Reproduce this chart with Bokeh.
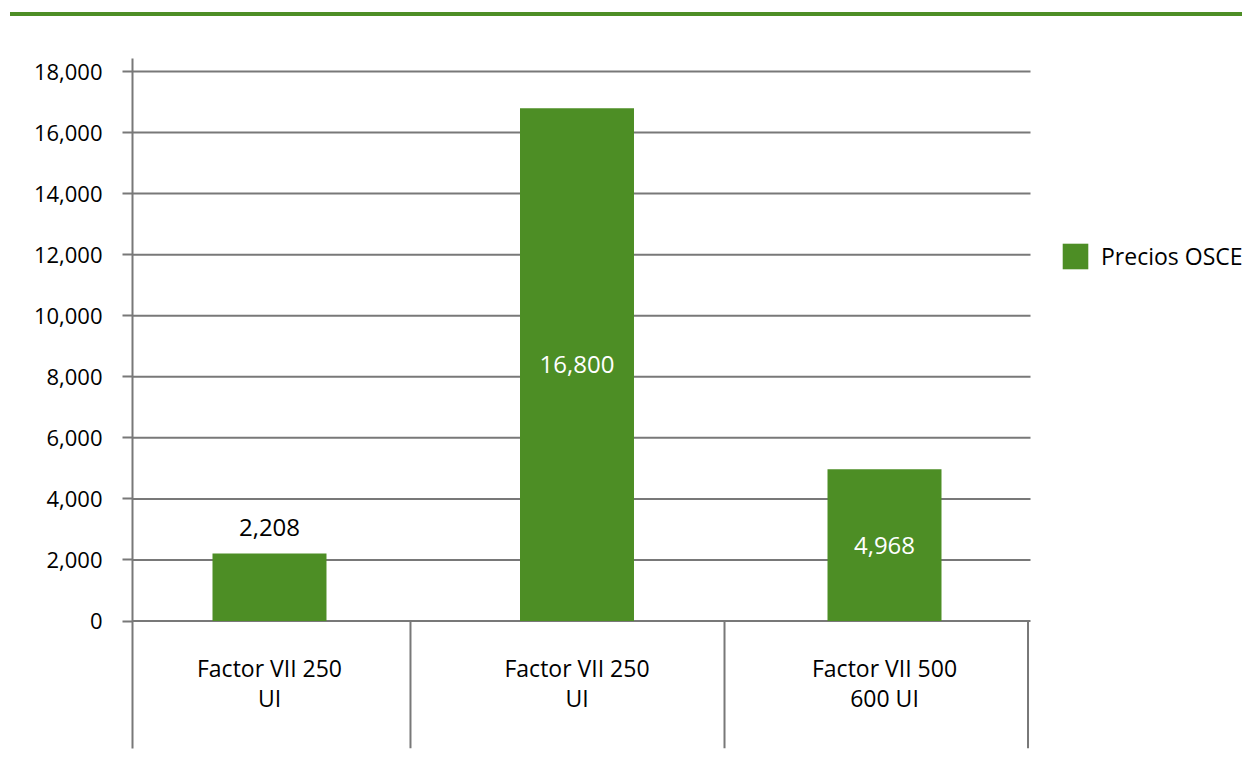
from bokeh.plotting import figure
from bokeh.layouts import column
from bokeh.models import (ColumnDataSource, FixedTicker, NumeralTickFormatter,
                          Legend, LegendItem, Range1d, Div)
from bokeh.core.properties import value
from bokeh.embed import file_html
from bokeh.resources import INLINE

# Data
categories = ["Factor VII 250\nUI", "Factor VII 250\nUI", "Factor VII 500\n600 UI"]
prices = [2208, 16800, 4968]
price_labels = ["2,208", "16,800", "4,968"]
y_ticks = [0, 2000, 4000, 6000, 8000, 10000, 12000, 14000, 16000, 18000]
series_name = "Precios OSCE"

# plot-area extent and category box edges, in category-index units
AREA_LEFT, AREA_RIGHT = -0.4455, 2.4748
category_edges = [0.4585, 1.4797, 2.4667]

GREEN = "#4d8e25"
GREY = "#787878"
FONT = "Open Sans"

xs = list(range(len(prices)))

p = figure(width=1242, height=742,
           x_range=Range1d(AREA_LEFT, 3.1642), y_range=Range1d(-4176, 18426),
           output_backend="svg", toolbar_location=None,
           min_border_left=132, min_border_right=0,
           min_border_top=42, min_border_bottom=10)
p.outline_line_color = None
p.background_fill_color = "white"
p.border_fill_color = "white"

# y axis
p.xaxis.visible = False
p.xgrid.visible = False
p.ygrid.visible = False
p.yaxis.ticker = FixedTicker(ticks=y_ticks)
p.yaxis.formatter = NumeralTickFormatter(format="0,0")
p.yaxis.minor_tick_line_color = None
p.yaxis.major_tick_in = 0
p.yaxis.major_tick_out = 10
p.yaxis.major_tick_line_color = GREY
p.yaxis.major_tick_line_width = 2
p.yaxis.axis_line_color = GREY
p.yaxis.axis_line_width = 2
p.yaxis.major_label_standoff = 20
p.yaxis.major_label_text_font = FONT
p.yaxis.major_label_text_font_size = "22px"
p.yaxis.major_label_text_color = "black"

# horizontal grid lines across the bar area
p.segment(x0=[AREA_LEFT] * len(y_ticks), y0=y_ticks,
          x1=[AREA_RIGHT] * len(y_ticks), y1=y_ticks,
          line_color=GREY, line_width=2)

# bars
bars = p.vbar(x=xs, top=prices, bottom=0, width=0.3707,
              fill_color=GREEN, line_color=None)

# category boxes below the zero line
p.segment(x0=category_edges, y0=[0] * len(category_edges),
          x1=category_edges, y1=[p.y_range.start] * len(category_edges),
          line_color=GREY, line_width=2)

# category labels
p.text(x=xs, y=[-2040] * len(xs), text=categories,
       text_font=value(FONT), text_font_size="23px", text_color="black",
       text_align="center", text_baseline="middle", text_line_height=0.93)

# value labels: inside the bar when it is tall enough, above it otherwise
inside = [i for i, v in enumerate(prices) if v > 3000]
outside = [i for i, v in enumerate(prices) if v <= 3000]
src_in = ColumnDataSource(dict(x=[xs[i] for i in inside],
                               y=[prices[i] / 2 for i in inside],
                               t=[price_labels[i] for i in inside]))
src_out = ColumnDataSource(dict(x=[xs[i] for i in outside],
                                y=[prices[i] for i in outside],
                                t=[price_labels[i] for i in outside]))
p.text(x="x", y="y", text="t", source=src_in, text_color="white",
       text_font=value(FONT), text_font_size="24px",
       text_align="center", text_baseline="middle")
p.text(x="x", y="y", text="t", source=src_out, text_color="black",
       text_font=value(FONT), text_font_size="24px",
       text_align="center", text_baseline="middle", y_offset=-26)

legend = Legend(items=[LegendItem(label=series_name, renderers=[bars])],
                location=(927, 476), margin=0, padding=0,
                border_line_color=None, background_fill_alpha=0,
                glyph_width=32, glyph_height=32, label_standoff=10,
                label_text_font=FONT, label_text_font_size="23px",
                label_text_color="black")
p.add_layout(legend)

# green rule across the top of the page
rule = Div(text="", width=1232, height=4, margin=(12, 0, 0, 10),
           styles={"background-color": GREEN, "min-height": "4px"})

open("out.html", "w").write(file_html(column(rule, p, spacing=0), INLINE))
